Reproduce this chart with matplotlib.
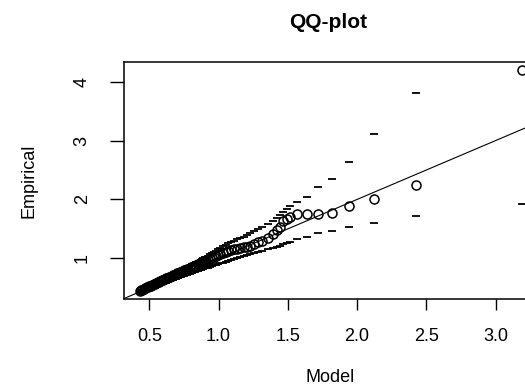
import matplotlib
matplotlib.use("Agg")
import matplotlib.pyplot as plt

# model quantiles (x), empirical quantiles (circles), and the pointwise bands
model = [0.430, 0.440, 0.450, 0.460, 0.470, 0.480, 0.490, 0.500, 0.510, 0.520,
         0.530, 0.540, 0.550, 0.560, 0.570, 0.580, 0.590, 0.600, 0.610, 0.620,
         0.630, 0.640, 0.650, 0.660, 0.670, 0.680, 0.690, 0.700, 0.710, 0.720,
         0.730, 0.740, 0.750, 0.760, 0.770, 0.780, 0.790, 0.800, 0.810, 0.820,
         0.830, 0.840, 0.850, 0.860, 0.870, 0.880, 0.890, 0.900, 0.910, 0.920,
         0.935, 0.950, 0.965, 0.980, 0.995,
         1.010, 1.030, 1.050, 1.070, 1.090, 1.110, 1.130,
         1.155, 1.180, 1.205, 1.230, 1.255, 1.285, 1.315, 1.355,
         1.394, 1.420, 1.444, 1.468, 1.495, 1.517,
         1.569, 1.637, 1.714, 1.822, 1.938, 2.124, 2.427, 3.190]

empirical = [0.45, 0.46, 0.47, 0.48, 0.495, 0.505, 0.515, 0.525, 0.535, 0.55,
             0.56, 0.57, 0.58, 0.59, 0.605, 0.615, 0.625, 0.64, 0.65, 0.66,
             0.67, 0.68, 0.69, 0.70, 0.71, 0.72, 0.735, 0.745, 0.755, 0.765,
             0.775, 0.785, 0.795, 0.805, 0.815, 0.825, 0.835, 0.845, 0.855, 0.865,
             0.875, 0.885, 0.895, 0.905, 0.915, 0.925, 0.935, 0.945, 0.955, 0.965,
             0.985, 1.00, 1.02, 1.035, 1.05,
             1.07, 1.09, 1.105, 1.12, 1.135, 1.15, 1.165,
             1.175, 1.19, 1.20, 1.215, 1.24, 1.27, 1.30, 1.35,
             1.42, 1.48, 1.54, 1.64, 1.66, 1.706,
             1.75, 1.752, 1.752, 1.775, 1.888, 2.01, 2.245, 4.20]

upper = [0.445, 0.456, 0.467, 0.478, 0.489, 0.50, 0.511, 0.522, 0.533, 0.544,
         0.555, 0.566, 0.578, 0.589, 0.60, 0.612, 0.623, 0.635, 0.646, 0.658,
         0.67, 0.681, 0.693, 0.705, 0.717, 0.729, 0.741, 0.753, 0.765, 0.777,
         0.79, 0.802, 0.815, 0.827, 0.84, 0.853, 0.866, 0.879, 0.892, 0.905,
         0.918, 0.932, 0.945, 0.959, 0.973, 0.987, 1.001, 1.015, 1.03, 1.044,
         1.066, 1.088, 1.11, 1.132, 1.155,
         1.177, 1.205, 1.23, 1.255, 1.278, 1.30, 1.325,
         1.34, 1.37, 1.40, 1.43, 1.46, 1.50, 1.54, 1.59,
         1.64, 1.69, 1.74, 1.79, 1.84, 1.88,
         1.95, 2.046, 2.205, 2.34, 2.63, 3.105, 3.80, 6.2]

lower = [0.418, 0.427, 0.436, 0.445, 0.454, 0.463, 0.472, 0.481, 0.49, 0.499,
         0.508, 0.517, 0.526, 0.535, 0.544, 0.553, 0.562, 0.571, 0.58, 0.589,
         0.598, 0.607, 0.616, 0.625, 0.634, 0.642, 0.651, 0.66, 0.669, 0.677,
         0.686, 0.695, 0.703, 0.712, 0.72, 0.729, 0.737, 0.746, 0.754, 0.762,
         0.771, 0.779, 0.787, 0.795, 0.803, 0.811, 0.819, 0.827, 0.835, 0.843,
         0.855, 0.866, 0.878, 0.889, 0.90,
         0.912, 0.927, 0.942, 0.957, 0.971, 0.986, 1.0,
         1.018, 1.036, 1.053, 1.07, 1.088, 1.108, 1.128, 1.155,
         1.18, 1.198, 1.215, 1.235, 1.26, 1.28,
         1.328, 1.367, 1.424, 1.458, 1.527, 1.605, 1.718, 1.917]

x_ticks = [0.5, 1.0, 1.5, 2.0, 2.5, 3.0]
y_ticks = [1, 2, 3, 4]

plt.rcParams["font.family"] = ["Liberation Sans", "DejaVu Sans"]

fig = plt.figure(figsize=(5.25, 3.88), dpi=100)
# R-style box; the right edge of the plot region falls outside the picture
ax = fig.add_axes([0.2362, 0.2294, 0.787, 0.6108])

ax.axline((0, 0), slope=1, color="black", linewidth=0.8)
ax.plot(model, upper, linestyle="none", marker="_", markersize=6,
        markeredgewidth=1.3, color="black")
ax.plot(model, lower, linestyle="none", marker="_", markersize=6,
        markeredgewidth=1.3, color="black")
ax.plot(model, empirical, linestyle="none", marker="o", markersize=6.5,
        markerfacecolor="none", markeredgecolor="black", markeredgewidth=1.1)

ax.set_xlim(0.317, 3.30)
ax.set_ylim(0.309, 4.334)
ax.set_xticks(x_ticks)
ax.set_xticklabels(["0.5", "1.0", "1.5", "2.0", "2.5", "3.0"])
ax.set_yticks(y_ticks)
ax.set_yticklabels(["1", "2", "3", "4"], rotation=90, va="center")
ax.tick_params(axis="x", direction="out", length=8, width=1, pad=13, labelsize=13)
ax.tick_params(axis="y", direction="out", length=10, width=1, pad=14, labelsize=13)
for s in ax.spines.values():
    s.set_linewidth(1.1)

ax.set_xlabel("Model", fontsize=13, labelpad=17)
ax.set_ylabel("Empirical", fontsize=13, labelpad=26)
fig.text(0.625, 0.943, "QQ-plot", ha="center", va="center",
         fontsize=15, fontweight="bold")

fig.savefig("out.png", dpi=100)
